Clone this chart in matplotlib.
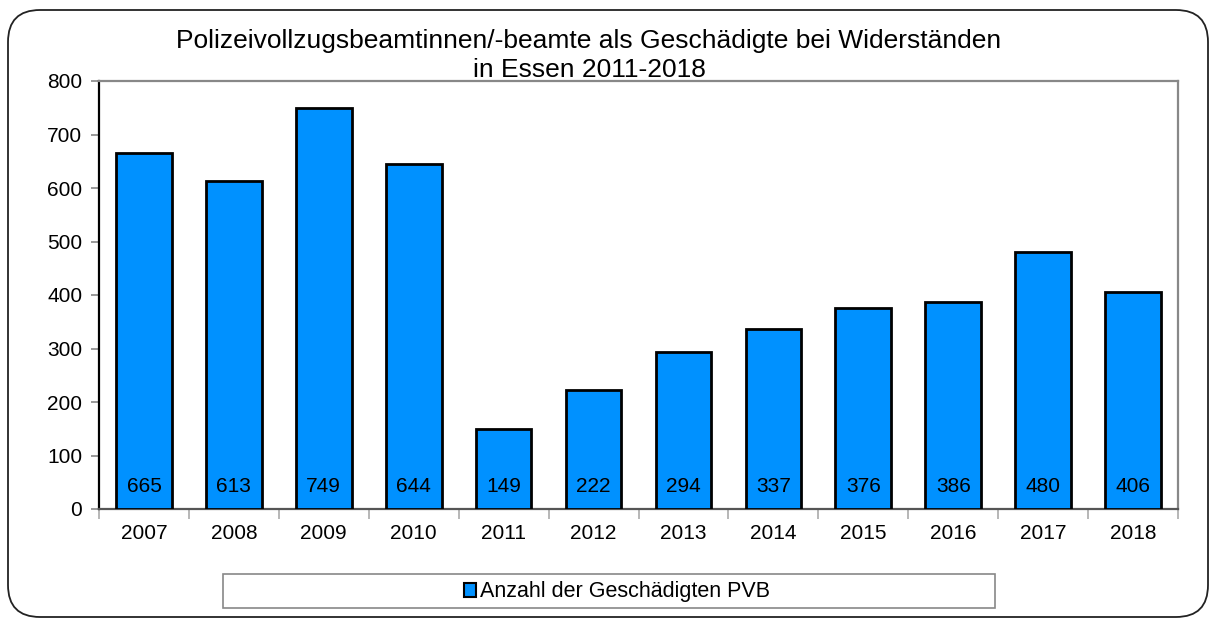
import matplotlib.pyplot as plt
from matplotlib.patches import FancyBboxPatch, Rectangle, Patch

plt.rcParams["font.family"] = ["Liberation Sans", "DejaVu Sans"]

YEARS = ["2007", "2008", "2009", "2010", "2011", "2012",
         "2013", "2014", "2015", "2016", "2017", "2018"]
VALUES = [665, 613, 749, 644, 149, 222, 294, 337, 376, 386, 480, 406]
SERIES_LABEL = "Anzahl der Geschädigten PVB"
TITLE = "Polizeivollzugsbeamtinnen/-beamte als Geschädigte bei Widerständen\nin Essen 2011-2018"
Y_TICKS = [0, 100, 200, 300, 400, 500, 600, 700, 800]

BAR_COLOR = "#0091ff"
FS = 15

fig = plt.figure(figsize=(12.1, 6.19), dpi=100)

# rounded outer frame
frame = FancyBboxPatch((0.08, 0.02), 12.0, 6.07,
                       boxstyle="round,pad=0,rounding_size=0.32",
                       transform=fig.dpi_scale_trans, facecolor="none",
                       edgecolor="#222222", linewidth=1.3, zorder=-1)
fig.patches.append(frame)

ax = fig.add_axes([99 / 1210, 110 / 619, 1079 / 1210, 428 / 619])
ax.set_facecolor("none")

x = list(range(len(YEARS)))
ax.bar(x, VALUES, width=0.62, color=BAR_COLOR, edgecolor="black", linewidth=2.0, zorder=3)

for xi, v in zip(x, VALUES):
    ax.annotate(str(v), xy=(xi, 0), xytext=(0, 23), textcoords="offset pixels",
                ha="center", va="center", fontsize=FS, zorder=4)

ax.set_xlim(-0.5, len(YEARS) - 0.5)
ax.set_ylim(0, 800)
ax.set_yticks(Y_TICKS)
ax.tick_params(axis="y", direction="out", length=6, width=1.2, color="#888888",
               labelsize=FS, pad=6)

# ticks between categories, labels at category centres
ax.set_xticks([i - 0.5 for i in range(len(YEARS) + 1)])
ax.set_xticklabels([])
ax.set_xticks(x, minor=True)
ax.set_xticklabels(YEARS, minor=True)
ax.tick_params(axis="x", which="major", direction="out", length=7, width=1.2, color="#aaaaaa")
ax.tick_params(axis="x", which="minor", length=0, labelsize=FS, pad=11)

ax.spines["left"].set_color("black")
ax.spines["left"].set_linewidth(1.6)
ax.spines["bottom"].set_color("#555555")
ax.spines["bottom"].set_linewidth(1.6)
for side in ["top", "right"]:
    ax.spines[side].set_color("#888888")
    ax.spines[side].set_linewidth(1.6)

fig.text(589 / 1210, 1 - 29 / 619, TITLE, ha="center", va="top", fontsize=19,
         linespacing=1.25, multialignment="center")

# legend box
fig.patches.append(Rectangle((223 / 1210, 1 - 608 / 619), 772 / 1210, 34 / 619,
                             transform=fig.transFigure, facecolor="white",
                             edgecolor="#888888", linewidth=1.2))
handle = Patch(facecolor=BAR_COLOR, edgecolor="black", linewidth=1.5, label=SERIES_LABEL)
fig.legend(handles=[handle], loc="center", bbox_to_anchor=(617 / 1210, 1 - 592 / 619),
           frameon=False, handlelength=0.55, handleheight=0.6, handletextpad=0.2,
           prop={"size": 15.5})

fig.savefig("out.png", dpi=100)
